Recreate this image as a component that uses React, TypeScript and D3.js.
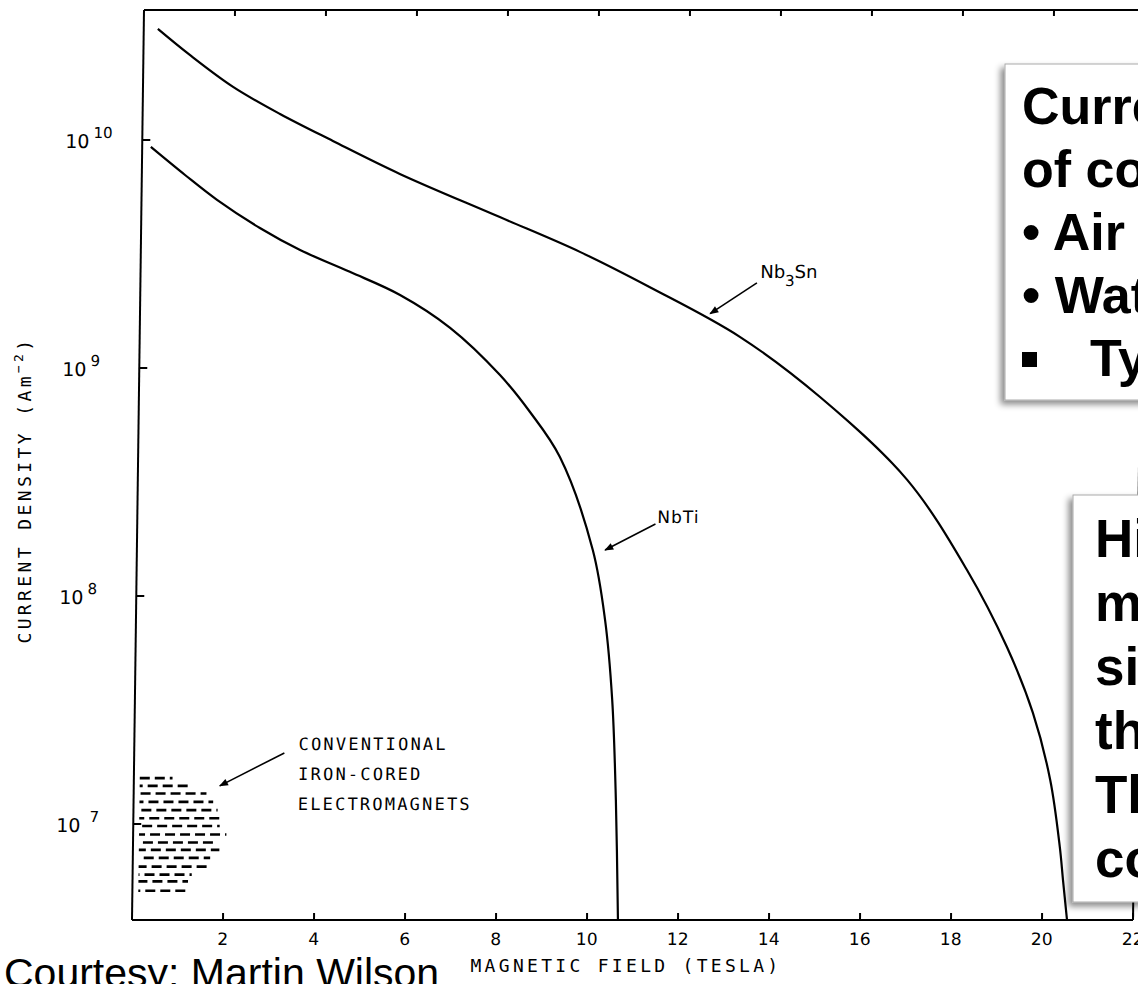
import React from 'react';
import * as d3 from 'd3';

// ---- data ----
const nb3snField = [0.31, 1.02, 1.98, 3.02, 4.19, 5.67, 7.88, 9.65, 11.2, 13.19, 14.97, 16.91, 18.25, 19.15, 19.74, 20.14, 20.37, 20.45, 20.55];
const nb3snJ = [3.07e10, 2.36e10, 1.71e10, 1.3e10, 9.9e9, 7.1e9, 4.59e9, 3.23e9, 2.26e9, 1.37e9, 7.46e8, 3.23e8, 1.3e8, 5.97e7, 3.07e7, 1.56e7, 7.93e6, 5.68e6, 3.79e6];
const nbtiField = [0.19, 0.95, 1.66, 2.61, 3.5, 4.6, 5.71, 6.82, 7.93, 8.6, 9.27, 10.02, 10.31, 10.49, 10.6, 10.68];
const nbtiJ = [9.32e9, 7.02e9, 5.46e9, 4.11e9, 3.29e9, 2.64e9, 2.09e9, 1.5e9, 9.31e8, 6.41e8, 4.07e8, 1.59e8, 7.85e7, 3.5e7, 1.27e7, 3.79e6];

// conventional iron-cored electromagnets region (hatched rows)
const blobJ = [1.59e7, 1.47e7, 1.36e7, 1.25e7, 1.15e7, 1.06e7, 9.8e6, 9.0e6, 8.3e6, 7.7e6, 7.1e6, 6.5e6, 6.0e6, 5.6e6, 5.1e6];
const blobFieldMax = [0.85, 1.25, 1.6, 1.75, 1.85, 1.97, 1.9, 2.05, 1.8, 1.9, 1.7, 1.72, 1.3, 1.22, 1.2];
const blobFieldMin = 0.13;

const xTicks = [2, 4, 6, 8, 10, 12, 14, 16, 18, 20, 22];
const yTickExps = [10, 9, 8, 7];

const box1Lines = ['Current density', 'of conventional magnets:', 'Air cooled', 'Water cooled', 'Typically ~ 1 T'];
const box2Lines = ['High field', 'magnets', 'simply not', 'the same', 'Thin', 'conductors'];

const W = 1138;
const H = 984;

export default function App() {
  const x = d3.scaleLinear().domain([0, 22]).range([132, 1133]);
  const y = d3.scaleLog().domain([Math.pow(10, 6.579), Math.pow(10, 10.57)]).range([920, 10]);
  const [y0, y1] = y.range();

  const line = d3
    .line<[number, number]>()
    .x((d) => x(d[0]))
    .y((d) => y(d[1]))
    .curve(d3.curveCatmullRom.alpha(0.5));

  const nb3sn = nb3snField.map((f, i) => [f, nb3snJ[i]] as [number, number]);
  const nbti = nbtiField.map((f, i) => [f, nbtiJ[i]] as [number, number]);

  const plotFont = "'DejaVu Sans Mono', monospace";
  const tickFont = "'DejaVu Sans', sans-serif";
  const boxFont = "'Liberation Sans', Arial, sans-serif";

  // annotation anchors in data units
  const nb3snArrow = { from: [13.55, 2.36e9], to: [12.53, 1.73e9], label: [13.62, 2.48e9] };
  const nbtiArrow = { from: [11.39, 2.07e8], to: [10.29, 1.59e8], label: [11.43, 2.09e8] };
  const convArrow = { from: [3.3, 2.05e7], to: [1.89, 1.47e7] };
  const convLabels = [
    { text: 'CONVENTIONAL', f: 3.61, j: 2.11e7 },
    { text: 'IRON-CORED', f: 3.61, j: 1.56e7 },
    { text: 'ELECTROMAGNETS', f: 3.61, j: 1.15e7 },
  ];

  const shear = `translate(0,${y0}) skewX(-0.7555) translate(0,${-y0})`;

  return (
    <svg
      width={W}
      height={H}
      viewBox={`0 0 ${W} ${H}`}
      style={{ position: 'absolute', left: 0, top: 0, background: '#fff' }}
    >
      <defs>
        <marker id="ah" viewBox="0 0 10 10" refX="9" refY="5" markerWidth="10" markerHeight="9" orient="auto" markerUnits="userSpaceOnUse">
          <path d="M0,1 L10,5 L0,9 z" fill="#000" />
        </marker>
        <filter id="sh" x="-20%" y="-20%" width="140%" height="140%">
          <feDropShadow dx="-4" dy="4" stdDeviation="3" floodColor="#000" floodOpacity="0.45" />
        </filter>
      </defs>
      <rect x={0} y={0} width={W} height={H} fill="#fff" />

      <g transform={shear}>
        {/* frame */}
        <line x1={x(0)} x2={x(0)} y1={y1} y2={y0} stroke="#000" strokeWidth={2} />
        <line x1={x(0)} x2={x(22)} y1={y0} y2={y0} stroke="#000" strokeWidth={2} />
        <line x1={x(0)} x2={x(22) + 20} y1={y1} y2={y1} stroke="#000" strokeWidth={2} />
        <line x1={x(22)} x2={x(22)} y1={y1} y2={y0} stroke="#000" strokeWidth={2} />

        {/* x ticks bottom + top */}
        {xTicks.map((t) => (
          <g key={'xt' + t}>
            <line x1={x(t)} x2={x(t)} y1={y0} y2={y0 - 7} stroke="#000" strokeWidth={2} />
            <line x1={x(t)} x2={x(t)} y1={y1} y2={y1 + 6} stroke="#000" strokeWidth={2} />
            <text x={x(t)} y={y0 + 25} textAnchor="middle" fontFamily={tickFont} fontSize={17} fill="#000">
              {t}
            </text>
          </g>
        ))}

        {/* y ticks */}
        {yTickExps.map((e) => {
          const yy = y(Math.pow(10, e));
          return (
            <g key={'yt' + e}>
              <line x1={x(0)} x2={x(0) + 8} y1={yy} y2={yy} stroke="#000" strokeWidth={2} />
              <text x={55} y={yy + 8} fontFamily={tickFont} fontSize={19} fill="#000">
                10
                <tspan dx={e === 7 ? 9 : 4} dy={-10} fontSize={15}>
                  {e}
                </tspan>
              </text>
            </g>
          );
        })}

        {/* curves */}
        <path d={line(nb3sn) || ''} fill="none" stroke="#000" strokeWidth={2.2} />
        <path d={line(nbti) || ''} fill="none" stroke="#000" strokeWidth={2.2} />

        {/* conventional region */}
        {blobJ.map((j, i) => (
          <line
            key={'bl' + i}
            x1={x(blobFieldMin)}
            x2={x(blobFieldMax[i])}
            y1={y(j)}
            y2={y(j)}
            stroke="#000"
            strokeWidth={2.6}
            strokeDasharray="10 5"
            strokeDashoffset={(i * 7) % 15}
          />
        ))}

        {/* annotations */}
        <line
          x1={x(nb3snArrow.from[0])}
          y1={y(nb3snArrow.from[1])}
          x2={x(nb3snArrow.to[0])}
          y2={y(nb3snArrow.to[1])}
          stroke="#000"
          strokeWidth={1.6}
          markerEnd="url(#ah)"
        />
        <text x={x(nb3snArrow.label[0])} y={y(nb3snArrow.label[1])} fontFamily={tickFont} fontSize={18} fill="#000">
          Nb
          <tspan dy={8} fontSize={15}>
            3
          </tspan>
          <tspan dy={-8}>Sn</tspan>
        </text>

        <line
          x1={x(nbtiArrow.from[0])}
          y1={y(nbtiArrow.from[1])}
          x2={x(nbtiArrow.to[0])}
          y2={y(nbtiArrow.to[1])}
          stroke="#000"
          strokeWidth={1.6}
          markerEnd="url(#ah)"
        />
        <text x={x(nbtiArrow.label[0])} y={y(nbtiArrow.label[1])} fontFamily={tickFont} fontSize={17} letterSpacing={1} fill="#000">
          NbTi
        </text>

        <line
          x1={x(convArrow.from[0])}
          y1={y(convArrow.from[1])}
          x2={x(convArrow.to[0])}
          y2={y(convArrow.to[1])}
          stroke="#000"
          strokeWidth={1.6}
          markerEnd="url(#ah)"
        />
        {convLabels.map((l) => (
          <text key={l.text} x={x(l.f)} y={y(l.j)} fontFamily={plotFont} fontSize={17} letterSpacing={2.2} fill="#000">
            {l.text}
          </text>
        ))}
      </g>

      {/* axis titles */}
      <text
        transform={`translate(31,490) rotate(-90)`}
        textAnchor="middle"
        fontFamily={plotFont}
        fontSize={18}
        letterSpacing={3.4}
        fill="#000"
      >
        CURRENT DENSITY (Am
        <tspan dy={-8} fontSize={13}>
          −2
        </tspan>
        <tspan dy={8}>)</tspan>
      </text>
      <text x={626} y={972} textAnchor="middle" fontFamily={plotFont} fontSize={18} letterSpacing={3.3} fill="#000">
        MAGNETIC FIELD (TESLA)
      </text>

      <text x={4} y={987} fontFamily={boxFont} fontSize={41} fill="#000">
        Courtesy: Martin Wilson
      </text>

      {/* text box 1 */}
      <rect x={1005} y={64} width={220} height={336} fill="#fff" stroke="#aaa" strokeWidth={1} filter="url(#sh)" />
      <g fontFamily={boxFont} fontWeight="bold" fontSize={52} fill="#000">
        <text x={1022} y={124}>{box1Lines[0]}</text>
        <text x={1022} y={187}>{box1Lines[1]}</text>
        <text x={1022} y={250}>
          {'• ' + box1Lines[2]}
        </text>
        <text x={1022} y={313}>
          {'• ' + box1Lines[3]}
        </text>
        <rect x={1022} y={352} width={15} height={15} fill="#000" />
        <text x={1090} y={376}>{box1Lines[4]}</text>
      </g>

      {/* text box 2 */}
      <rect x={1073} y={495} width={160} height={407} fill="#fff" stroke="#aaa" strokeWidth={1} filter="url(#sh)" />
      <g fontFamily={boxFont} fontWeight="bold" fontSize={53} fill="#000">
        {box2Lines.map((t, i) => (
          <text key={t} x={1095} y={557 + i * 64}>
            {t}
          </text>
        ))}
      </g>
    </svg>
  );
}
